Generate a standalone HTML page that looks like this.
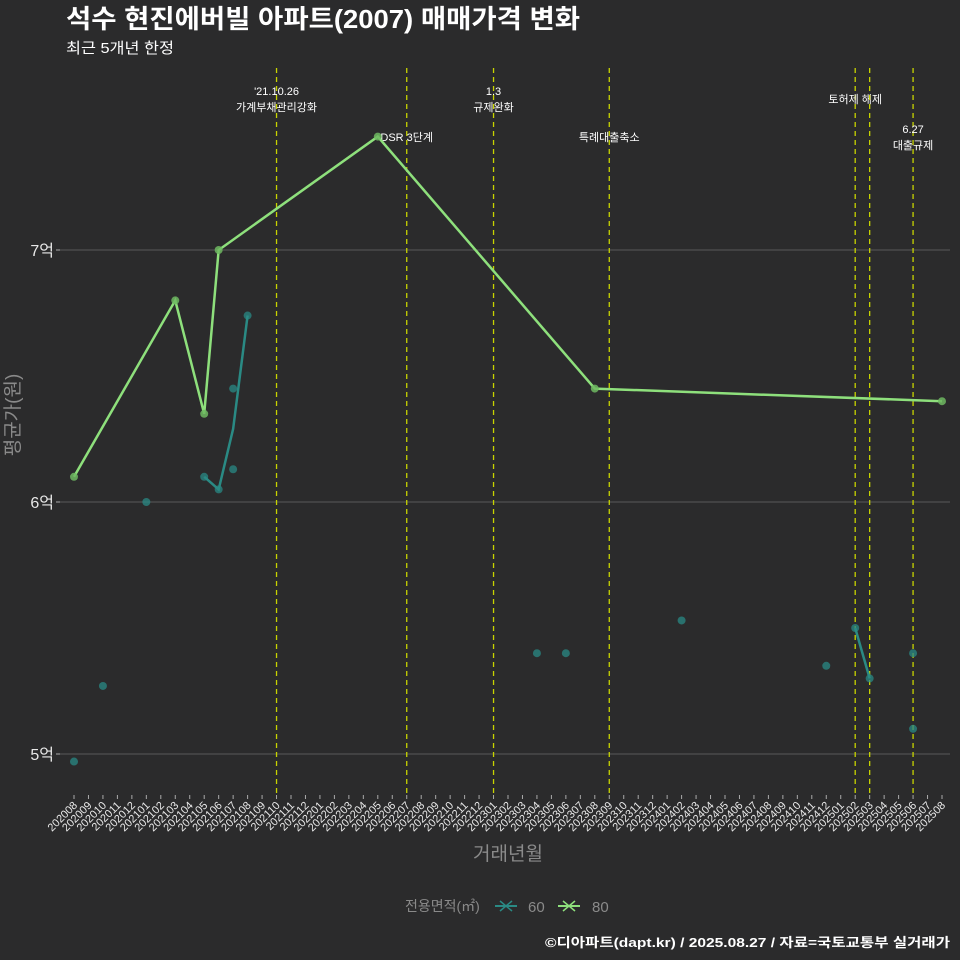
<!DOCTYPE html>
<html><head><meta charset="utf-8"><style>
html,body{margin:0;padding:0;background:#2b2b2c;}
svg{display:block;font-family:"Liberation Sans","Noto Sans CJK KR",sans-serif;}
</style></head><body>
<svg id="chart" width="960" height="960" viewBox="0 0 960 960">
<rect width="960" height="960" fill="#2b2b2c"/>
<text x="66" y="28" font-size="26" font-weight="bold" fill="#ffffff" textLength="514" lengthAdjust="spacingAndGlyphs">석수 현진에버빌 아파트(2007) 매매가격 변화</text>
<text x="66" y="53" font-size="15" fill="#ffffff" textLength="108" lengthAdjust="spacingAndGlyphs">최근 5개년 한정</text>
<g id="grid"></g>
<g id="events"></g>
<g id="series"></g>
<g id="xaxis"></g>
<g id="yaxis"></g>
<text x="19" y="415" font-size="19" fill="#8a8a8a" text-anchor="middle" transform="rotate(-90 19 415)">평균가(원)</text>
<text x="508" y="860" font-size="19" fill="#8a8a8a" text-anchor="middle">거래년월</text>
<g>
<text x="405" y="911" font-size="14" fill="#8a8a8a">전용면적(㎡)</text>
<g>
<line x1="495" y1="906" x2="517" y2="906" stroke="#2a8a84" stroke-width="2"/>
<path d="M500 901 L512 911 M512 901 L500 911" stroke="#2a8a84" stroke-width="1.5"/>
<text x="528" y="912" font-size="15" fill="#8a8a8a">60</text></g>
<g>
<line x1="558" y1="906" x2="580" y2="906" stroke="#8ee07c" stroke-width="2"/>
<path d="M563 901 L575 911 M575 901 L563 911" stroke="#8ee07c" stroke-width="1.5"/>
<text x="592" y="912" font-size="15" fill="#8a8a8a">80</text></g>
</g>
<text x="950" y="947" font-size="13" font-weight="bold" fill="#ffffff" text-anchor="end" textLength="405" lengthAdjust="spacingAndGlyphs">©디아파트(dapt.kr) / 2025.08.27 / 자료=국토교통부 실거래가</text>
</svg>
<script>
const months = [];
for (let y = 2020, m = 8; y * 100 + m <= 202508; m++) { if (m > 12) { m = 1; y++; } months.push(String(y * 100 + m)); }
const yTicks = [5, 6, 7];
const yTickLabels = ['5억', '6억', '7억'];
const line80Months = ['202008','202103','202105','202106','202205','202308','202508'];
const line80Values = [6.1, 6.8, 6.35, 7.0, 7.45, 6.45, 6.4];
const line60aMonths = ['202105','202106','202107','202108'];
const line60aValues = [6.1, 6.05, 6.29, 6.74];
const line60bMonths = ['202502','202503'];
const line60bValues = [5.5, 5.3];
const pts60Months = ['202008','202010','202101','202105','202106','202107','202107','202108','202304','202306','202402','202412','202502','202503','202506','202506'];
const pts60Values = [4.97, 5.27, 6.0, 6.1, 6.05, 6.45, 6.13, 6.74, 5.4, 5.4, 5.53, 5.35, 5.5, 5.3, 5.4, 5.1];
const eventMonths = ['202110','202207','202301','202309','202502','202503','202506'];
const eventLabels = [["'21.10.26","가계부채관리강화"],["DSR 3단계"],["1.3","규제완화"],["특례대출축소"],["토허제 해제"],[],["6.27","대출규제"]];
const eventLabelY = [[95,111],[141],[95,111],[141],[103],[],[133,149]];

const NS = 'http://www.w3.org/2000/svg';
const xs = m => 74 + months.indexOf(m) * (868 / (months.length - 1));
const ys = v => 754 - (v - 5) * 252;
function mk(tag, attrs, parent) { const e = document.createElementNS(NS, tag); for (const k in attrs) e.setAttribute(k, attrs[k]); document.getElementById(parent).appendChild(e); return e; }

yTicks.forEach((t, i) => {
  const g = mk('line', {x1: 60, x2: 950, y1: ys(t), y2: ys(t), stroke: '#5a5a5a', 'stroke-width': 1}, 'grid');
  
  
  const tk = mk('line', {x1: 56, x2: 60, y1: ys(t), y2: ys(t), stroke: '#aaa'}, 'yaxis');
  
  
  const tx = mk('text', {x: 54, y: ys(t) + 6, 'font-size': 16, fill: '#e8e8e8', 'text-anchor': 'end'}, 'yaxis');
  tx.textContent = yTickLabels[i];
  
  
});
months.forEach(m => {
  const x = xs(m);
  const tk = mk('line', {x1: x, x2: x, y1: 795, y2: 799, stroke: '#aaa'}, 'xaxis');
  
  
  const tx = mk('text', {x: x + 4, y: 806, 'font-size': 11, fill: '#e8e8e8', 'text-anchor': 'end', transform: `rotate(-45 ${x + 4} 806)`}, 'xaxis');
  tx.textContent = m;
  
  
});
eventMonths.forEach((m, i) => {
  const x = xs(m);
  const l = mk('line', {x1: x, x2: x, y1: 68, y2: 795, stroke: '#c8d400', 'stroke-width': 1.3, 'stroke-dasharray': '5,4'}, 'events');
  
  
  eventLabels[i].forEach((s, j) => {
    const t = mk('text', {x: x, y: eventLabelY[i][j], 'font-size': 11, fill: '#ffffff', 'text-anchor': 'middle'}, 'events');
    t.textContent = s;
    
    
  });
});
function drawLine(ms, vs, color, name) {
  const p = mk('polyline', {points: ms.map((m, i) => xs(m) + ',' + ys(vs[i])).join(' '), fill: 'none', stroke: color, 'stroke-width': 2.5}, 'series');
  
  
}
pts60Months.forEach((m, i) => {
  const c = mk('circle', {cx: xs(m), cy: ys(pts60Values[i]), r: 4, fill: '#2a8a84', 'fill-opacity': 0.75}, 'series');
  
  
});
drawLine(line60aMonths, line60aValues, '#2a8a84', 'line-60');
drawLine(line60bMonths, line60bValues, '#2a8a84', 'line-60');
drawLine(line80Months, line80Values, '#8ee07c', 'line-80');
line80Months.forEach((m, i) => {
  const c = mk('circle', {cx: xs(m), cy: ys(line80Values[i]), r: 4, fill: '#6fb862', 'fill-opacity': 0.85}, 'series');
  
  
});
</script>
</body></html>
